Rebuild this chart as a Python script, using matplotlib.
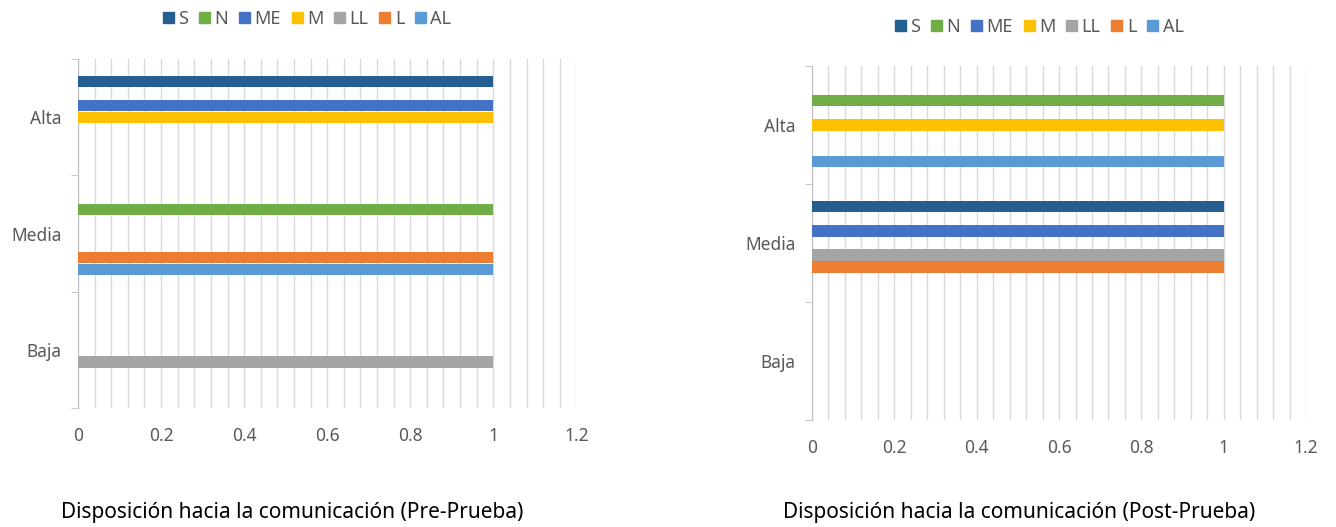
import matplotlib
matplotlib.use("Agg")
import matplotlib.pyplot as plt
import numpy as np

plt.rcParams["font.family"] = ["Noto Sans", "DejaVu Sans"]

categories = ["Baja", "Media", "Alta"]
series = ["S", "N", "ME", "M", "LL", "L", "AL"]
colors = ["#255E91", "#70AD47", "#4472C4", "#FFC000", "#A5A5A5", "#ED7D31", "#5B9BD5"]

# values per series, in category order Baja, Media, Alta
pre_values = {
    "S":  [0, 0, 1],
    "N":  [0, 1, 0],
    "ME": [0, 0, 1],
    "M":  [0, 0, 1],
    "LL": [1, 0, 0],
    "L":  [0, 1, 0],
    "AL": [0, 1, 0],
}
post_values = {
    "S":  [0, 1, 0],
    "N":  [0, 0, 1],
    "ME": [0, 1, 0],
    "M":  [0, 0, 1],
    "LL": [0, 1, 0],
    "L":  [0, 1, 0],
    "AL": [0, 0, 1],
}
x_ticks = [0, 0.2, 0.4, 0.6, 0.8, 1, 1.2]
x_tick_labels = ["0", "0.2", "0.4", "0.6", "0.8", "1", "1.2"]

GRID = "#D9D9D9"
TXT = "#595959"
SLOT = 0.103
BAR_H = 0.098


def draw(ax, values):
    y = np.arange(len(categories))
    for i, (s, c) in enumerate(zip(series, colors)):
        off = (3 - i) * SLOT
        vals = np.array(values[s], dtype=float)
        mask = vals > 0
        ax.barh(y[mask] + off, vals[mask], height=BAR_H, color=c, zorder=3)
    ax.set_xlim(0, 1.2)
    ax.set_ylim(-0.5, len(categories) - 0.5)
    ax.set_xticks(np.arange(0, 1.2001, 0.04), minor=True)
    ax.set_xticks(x_ticks)
    ax.set_xticklabels(x_tick_labels)
    ax.grid(axis="x", which="both", color=GRID, linewidth=1.0, zorder=0)
    ax.set_yticks(y)
    ax.set_yticklabels(categories)
    ax.set_yticks(np.arange(-0.5, len(categories), 1.0), minor=True)
    ax.tick_params(axis="y", which="major", length=0, pad=12, labelsize=12.5, labelcolor=TXT)
    ax.tick_params(axis="y", which="minor", length=5, color="#BFBFBF")
    ax.tick_params(axis="x", which="both", length=0, pad=14, labelsize=12.5, labelcolor=TXT)
    for sp in ("top", "right", "bottom"):
        ax.spines[sp].set_visible(False)
    ax.spines["left"].set_color("#BFBFBF")


def legend(ax, xpos, ypos):
    handles = [plt.Rectangle((0, 0), 1, 1, color=c) for c in colors]
    ax.legend(handles, series, ncol=7, loc="center", bbox_to_anchor=(xpos, ypos),
              frameon=False, handlelength=0.6, handleheight=0.6, handletextpad=0.25,
              columnspacing=0.6, labelcolor=TXT, fontsize=13)


fig = plt.figure(figsize=(13.36, 5.27), dpi=100)
ax1 = fig.add_axes([0.0584, 0.2258, 0.373, 0.662])
ax2 = fig.add_axes([0.6078, 0.203, 0.3698, 0.672])

draw(ax1, pre_values)
draw(ax2, post_values)
legend(ax1, 0.46, 1.115)
legend(ax2, 0.46, 1.11)

fig.text(0.219, 0.027, "Disposición hacia la comunicación (Pre-Prueba)",
         ha="center", va="center", fontsize=15, color="black")
fig.text(0.763, 0.027, "Disposición hacia la comunicación (Post-Prueba)",
         ha="center", va="center", fontsize=15, color="black")

fig.savefig("out.png", dpi=100)
